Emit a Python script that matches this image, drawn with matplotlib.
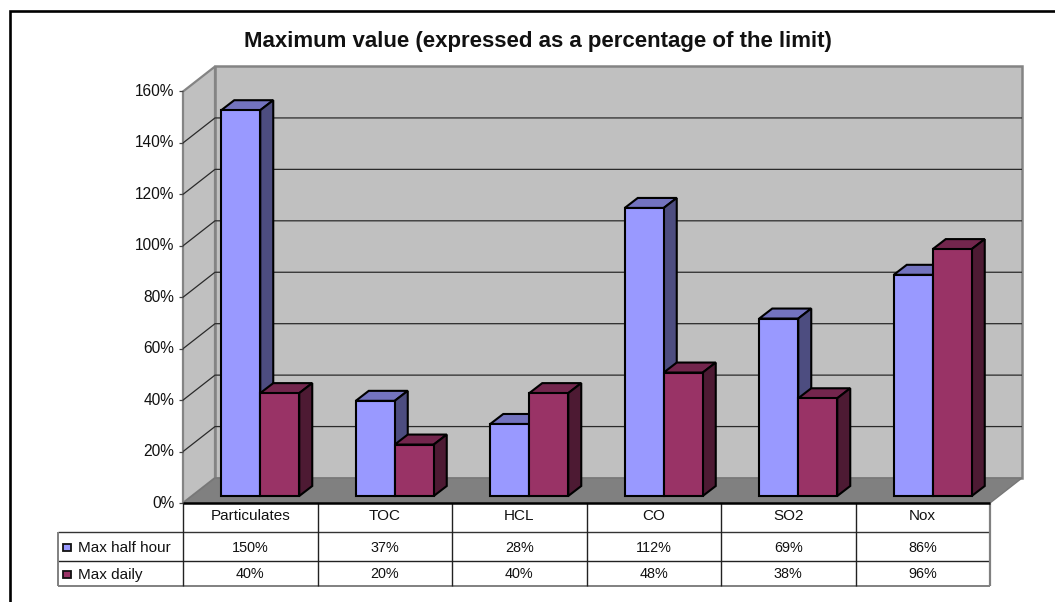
import matplotlib
matplotlib.use("Agg")
import matplotlib.pyplot as plt
from matplotlib.patches import Polygon, Rectangle

categories = ["Particulates", "TOC", "HCL", "CO", "SO2", "Nox"]
half_hour = [150, 37, 28, 112, 69, 86]
daily = [40, 20, 40, 48, 38, 96]
series_names = ["Max half hour", "Max daily"]
y_ticks = [0, 20, 40, 60, 80, 100, 120, 140, 160]
chart_title = "Maximum value (expressed as a percentage of the limit)"

W, H = 1055, 602
plt.rcParams["font.family"] = ["Liberation Sans", "DejaVu Sans"]

fig = plt.figure(figsize=(W / 100, H / 100), dpi=100, facecolor="white")

# Front plane of the 3D box: one x unit per category, y in percent.
LEFT, RIGHT, BOTTOM, TOP = 183.0, 990.0, 503.0, 91.5
ax = fig.add_axes([LEFT / W, 1 - BOTTOM / H, (RIGHT - LEFT) / W, (BOTTOM - TOP) / H])
ax.set_xlim(0, len(categories))
ax.set_ylim(0, 160)
ax.axis("off")

ux = (RIGHT - LEFT) / len(categories)   # pixels per category
uy = (BOTTOM - TOP) / 160               # pixels per percent


def off(x, y, dx_px, dy_px):
    """Shift a data position by an offset given in pixels (dy upward)."""
    return (x + dx_px / ux, y + dy_px / uy)


def poly(points, **kw):
    kw.setdefault("clip_on", False)
    p = Polygon(points, closed=True, **kw)
    ax.add_patch(p)
    return p


def line(xs, ys, color, lw, z=2):
    ax.plot(xs, ys, color=color, lw=lw, clip_on=False, zorder=z, solid_capstyle="butt")


DX, DY = 32.0, 25.0
n = len(categories)
WALL = "#c0c0c0"
WALL_EDGE = "#848484"

# Walls and floor
poly([off(0, 0, DX, DY), off(n, 0, DX, DY), off(n, 160, DX, DY), off(0, 160, DX, DY)],
     facecolor=WALL, edgecolor=WALL_EDGE, lw=1.8, zorder=1)
poly([(0, 0), off(0, 0, DX, DY), off(0, 160, DX, DY), (0, 160)],
     facecolor=WALL, edgecolor=WALL_EDGE, lw=1.6, zorder=1)
poly([(0, 0), (n, 0), off(n, 0, DX, DY), off(0, 0, DX, DY)],
     facecolor="#808080", edgecolor="#777777", lw=1.0, zorder=1.5)

# Gridlines along side wall and back wall, with tick marks and labels
for v in y_ticks:
    if 0 < v < 160:
        a = off(0, v, DX, DY)
        b = off(n, v, DX, DY)
        line([0, a[0], b[0]], [v, a[1], b[1]], "#2a2a2a", 0.9)
    t = off(0, v, -4, 0)
    line([t[0], 0], [v, v], "#444444", 0.9)
    ax.text(off(0, v, -8.5, 0)[0], v, f"{v}%", ha="right", va="center", fontsize=11.2,
            color="#111111", clip_on=False)

# Bars: front face, top and side, set a little way into the box
BAR_W = 39.0 / ux
BDX, BDY = 10.0, 7.0
SDX, SDY = 13.0, 10.0
COLORS = [("#9999ff", "#7373bf", "#4d4d80"), ("#993366", "#73264d", "#4d1a33")]


def bar(x0, value, palette, z):
    front, top, side = palette
    x0, y0 = off(x0, 0, BDX, BDY)
    x1 = x0 + BAR_W
    y1 = y0 + value
    style = dict(edgecolor="black", lw=1.5, joinstyle="miter", zorder=z)
    poly([(x0, y1), (x1, y1), off(x1, y1, SDX, SDY), off(x0, y1, SDX, SDY)], facecolor=top, **style)
    poly([(x1, y0), off(x1, y0, SDX, SDY), off(x1, y1, SDX, SDY), (x1, y1)], facecolor=side, **style)
    poly([(x0, y0), (x1, y0), (x1, y1), (x0, y1)], facecolor=front, **style)


for i, (a, b) in enumerate(zip(half_hour, daily)):
    start = i + 0.5 - BAR_W
    bar(start, a, COLORS[0], 3 + i * 0.1)
    bar(start + BAR_W, b, COLORS[1], 3.05 + i * 0.1)

# Data table below the floor; row boundaries are measured in pixels under the front edge
ROWS = [0, 29, 58, 83]
TEXT_ROWS = [13.5, 44.5, 71.5]
LEGEND_W = 125.0
GRID = "#222222"
GREY = "#808080"
row_y = [-r / uy for r in ROWS]
text_y = [-r / uy for r in TEXT_ROWS]
legend_x = -LEGEND_W / ux

line([0, n], [0, 0], "black", 1.8, z=6)
line([legend_x, n], [row_y[1]] * 2, "#333333", 1.0)
line([legend_x, n], [row_y[2]] * 2, "#222222", 1.0)
line([legend_x, n], [row_y[3]] * 2, GREY, 1.4)
line([legend_x, legend_x], [row_y[1], row_y[3]], GREY, 1.4)
line([n, n], [row_y[0], row_y[3]], GREY, 1.6)
for i in range(n):
    line([i, i], [row_y[0], row_y[3]], GRID, 1.0)

half_labels = [f"{v}%" for v in half_hour]
daily_labels = [f"{v}%" for v in daily]
for i in range(n):
    cx = i + 0.5
    ax.text(cx, text_y[0], categories[i], ha="center", va="center",
            fontsize=11.0, color="#111111", clip_on=False)
    ax.text(cx, text_y[1], half_labels[i], ha="center", va="center",
            fontsize=10.4, color="#111111", clip_on=False)
    ax.text(cx, text_y[2], daily_labels[i], ha="center", va="center",
            fontsize=10.4, color="#111111", clip_on=False)

# Legend keys inside the table's first column
for r, (name, palette) in enumerate(zip(series_names, COLORS)):
    ymid = text_y[r + 1]
    kx = off(legend_x, 0, 5, 0)[0]
    ax.add_patch(Rectangle((kx, ymid - 3.8 / uy), 8 / ux, 7.6 / uy, facecolor=palette[0],
                           edgecolor="#111111", lw=1.3, clip_on=False, zorder=4))
    ax.text(off(legend_x, 0, 19.5, 0)[0], ymid, name, ha="left", va="center", fontsize=11.0,
            color="#111111", clip_on=False)

# Outer frame: runs across the top and down the left side
fig.add_artist(plt.Line2D([9.5 / W, 9.5 / W, 1.0], [0.0, 1 - 11 / H, 1 - 11 / H],
                          color="black", lw=1.9, solid_joinstyle="miter"))

fig.text(537.5 / W, 1 - 41.5 / H, chart_title, ha="center", va="center", fontsize=16.0,
         fontweight="bold", color="#111111")

fig.savefig("out.png", dpi=100, facecolor="white")
